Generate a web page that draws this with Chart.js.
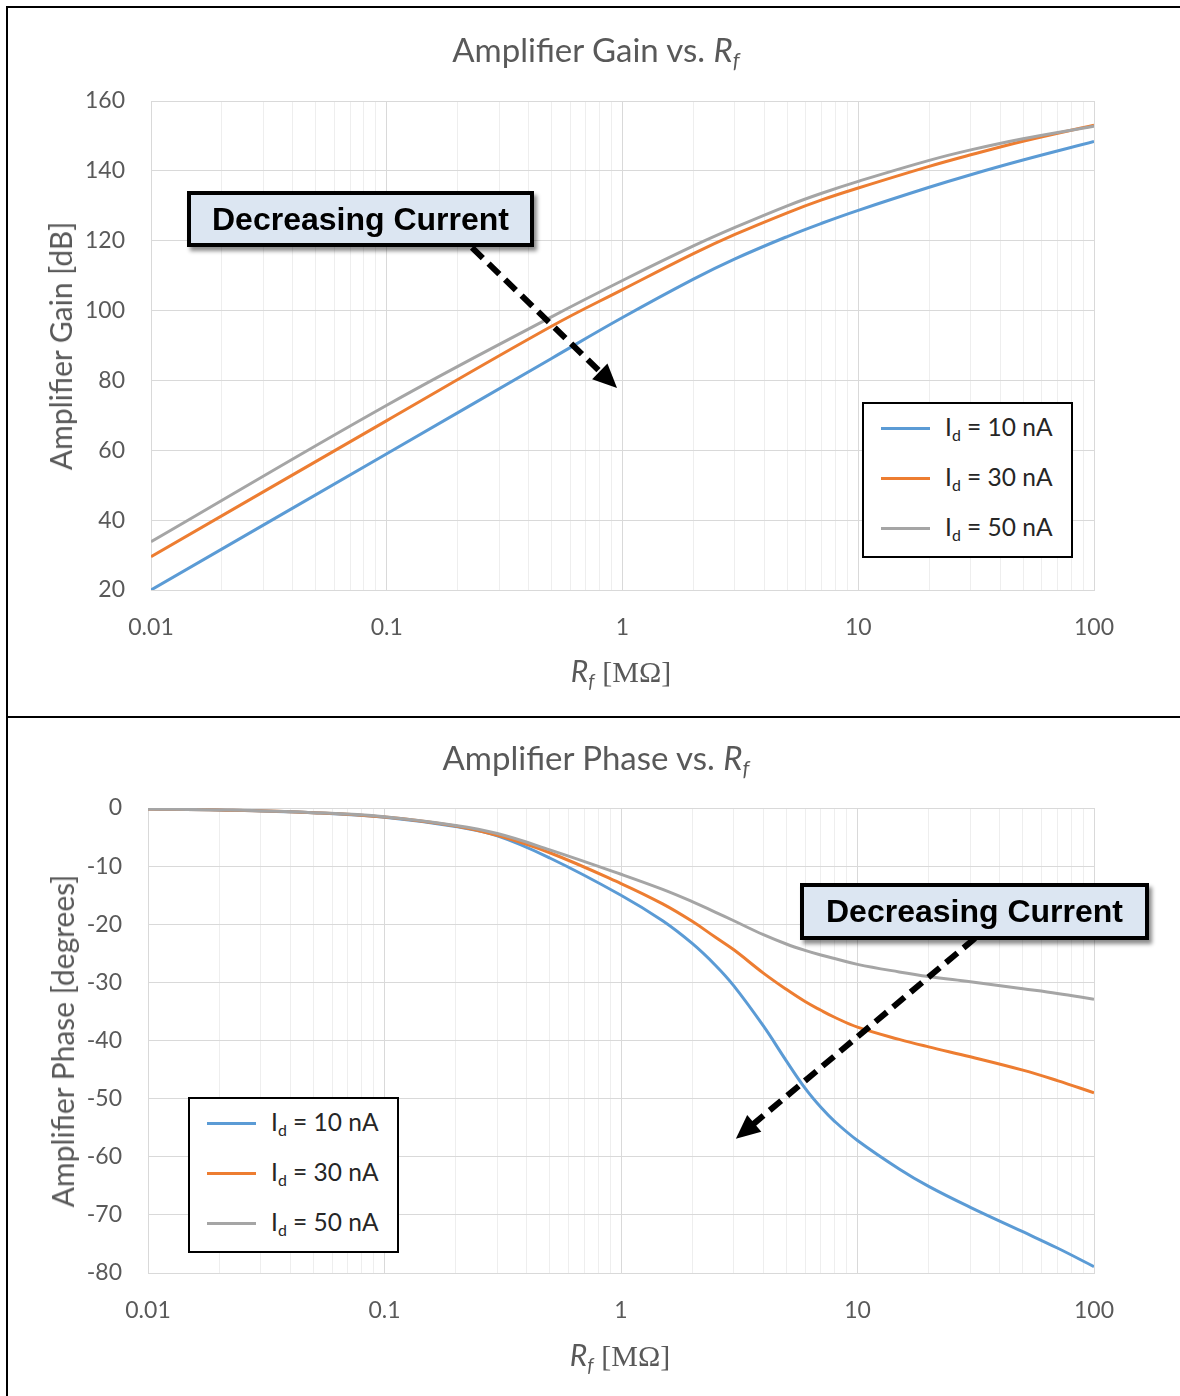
<!DOCTYPE html>
<html>
<head>
<meta charset="utf-8">
<script src="https://cdn.jsdelivr.net/npm/chart.js@4.4.1/dist/chart.umd.min.js"></script>
<style>
  html, body { margin: 0; padding: 0; background: #fff; }
  body { width: 1180px; height: 1396px; position: relative; overflow: hidden; font-family: Lato, "Open Sans", sans-serif; }
  #frame { position: absolute; left: 6px; top: 6px; width: 1300px; height: 1500px; border-left: 2px solid #000; border-top: 2px solid #000; }
  #divider { position: absolute; left: 6px; top: 716px; width: 1300px; height: 2px; background: #000; }
  .panel { position: absolute; left: 0; width: 1180px; }
  #gainPanel { top: 0; height: 717px; }
  #phasePanel { top: 717px; height: 679px; }
  canvas { display: block; }
  .txt { position: absolute; transform: translate(-50%, -50%); white-space: nowrap; line-height: 1; color: #595959; }
  .title { font-size: 33px; }
  .axis-title { font-size: 30px; }
  .ytitle { transform: translate(-50%, -50%) rotate(-90deg); }
  .serif { font-family: "Liberation Serif", "DejaVu Serif", serif; }
  sub { font-size: 65%; vertical-align: -0.3em; line-height: 0; }
  .legend { position: absolute; width: 211px; height: 156px; border: 2px solid #000; box-sizing: border-box; background: #fff; }
  .legend .swatch { position: absolute; left: 17px; width: 49px; height: 3px; margin-top: -1.5px; }
  .legend .lbl { position: absolute; left: 81px; transform: translateY(-50%); font-size: 24.5px; line-height: 1; color: #262626; white-space: nowrap; }
  .callout { position: absolute; box-sizing: border-box; border: 4.5px solid #000; background: #dce6f2;
             box-shadow: 3px 4px 4px rgba(0,0,0,0.45); font-family: "Liberation Sans", Arial, sans-serif;
             font-weight: bold; font-size: 32px; color: #000; display: flex; align-items: center; justify-content: center; }
</style>
</head>
<body>
<div id="frame"></div>
<div id="divider"></div>

<div class="panel" id="gainPanel"><canvas id="gainChart" width="1180" height="717"></canvas></div>
<div class="panel" id="phasePanel"><canvas id="phaseChart" width="1180" height="679"></canvas></div>

<div class="txt title" style="left:596px; top:49px;">Amplifier Gain vs. <i>R</i><sub><i>f</i></sub></div>
<div class="txt axis-title" style="left:621px; top:671px;"><i>R</i><sub><i>f</i></sub> <span class="serif">[MΩ]</span></div>
<div class="txt axis-title ytitle" style="left:60px; top:346px;">Amplifier Gain [dB]</div>

<div class="txt title" style="left:596px; top:757px;">Amplifier Phase vs. <i>R</i><sub><i>f</i></sub></div>
<div class="txt axis-title" style="left:620px; top:1355px;"><i>R</i><sub><i>f</i></sub> <span class="serif">[MΩ]</span></div>
<div class="txt axis-title ytitle" style="left:62px; top:1041px;">Amplifier Phase [degrees]</div>

<div class="legend" id="gainLegend" style="left:862px; top:402px;"></div>
<div class="legend" id="phaseLegend" style="left:188px; top:1097px;"></div>

<div class="callout" style="left:187px; top:191px; width:347px; height:56px;">Decreasing Current</div>
<div class="callout" style="left:800px; top:883px; width:349px; height:57px;">Decreasing Current</div>

<script>
// feedback resistance, MOhm
const RF_GAIN = [0.01, 0.1, 0.5, 1, 2, 3, 5, 7, 10, 20, 30, 50, 100];
const GAIN_10NA = [20, 59, 86.3, 98, 109, 114.8, 121.2, 125, 128.7, 135.3, 138.9, 143.1, 148.4];
const GAIN_30NA = [29.5, 68.5, 95.5, 106, 116.3, 121.8, 128, 131.7, 135.1, 141.3, 144.6, 148.5, 153.1];
const GAIN_50NA = [33.8, 72.9, 98.2, 108.6, 118.5, 123.8, 130, 133.6, 137, 143, 146, 149.2, 152.8];

const RF_PHASE = [0.01, 0.02, 0.05, 0.1, 0.2, 0.3, 0.5, 1, 1.5, 2, 2.5, 3, 4, 5, 6, 7, 8, 10, 15, 20, 30, 50, 70, 100];
const PHASE_10NA = [-0.17, -0.33, -0.82, -1.6, -3.2, -4.8, -8.6, -15.0, -19.4, -23.3, -27.0, -30.6, -37.5, -43.5, -48.2, -51.5, -53.9, -57.2, -62.1, -65.1, -68.7, -72.9, -75.7, -78.9];
const PHASE_30NA = [-0.17, -0.33, -0.8, -1.55, -3.1, -4.7, -7.7, -13.0, -16.5, -19.5, -22.2, -24.4, -28.4, -31.2, -33.3, -34.8, -36.0, -37.7, -39.8, -41.1, -42.8, -45.1, -46.9, -49.0];
const PHASE_50NA = [-0.17, -0.33, -0.8, -1.5, -3.0, -4.4, -7.2, -11.4, -14.0, -16.1, -17.9, -19.4, -21.8, -23.4, -24.5, -25.3, -25.9, -26.9, -28.2, -29.0, -29.9, -31.1, -31.9, -32.9];

const CURRENTS = ['10 nA', '30 nA', '50 nA'];
const COLORS = ['#5b9bd5', '#ed7d31', '#a5a5a5'];

const X_DECADES = [0.01, 0.1, 1, 10, 100];
const X_TICK_LABELS = ['0.01', '0.1', '1', '10', '100'];

// arrow annotations in data coordinates: [x0, y0, x1 (tip), y1 (tip)]
const GAIN_ARROW = [0.23, 118, 0.948, 77.8];
const PHASE_ARROW = [31.4, -22.4, 3.06, -56.9];

const TICK_COLOR = '#595959';
const MAJOR_GRID = '#d9d9d9';
const MINOR_GRID = '#eeeeee';

function isDecade(v) {
    return X_DECADES.some(d => Math.abs(v - d) / d < 1e-6);
}

function logGridValues() {
    const vals = [];
    for (let i = 0; i < X_DECADES.length - 1; i++) {
        for (let m = 1; m < 10; m++) vals.push(+(X_DECADES[i] * m).toPrecision(6));
    }
    vals.push(X_DECADES[X_DECADES.length - 1]);
    return vals;
}

function buildDatasets(xs, series) {
    return series.map((ys, i) => ({
        label: 'Id = ' + CURRENTS[i],
        data: xs.map((x, j) => ({ x: x, y: ys[j] })),
        borderColor: COLORS[i],
        backgroundColor: COLORS[i],
        borderWidth: 3,
        pointRadius: 0,
        fill: false,
        tension: 0.4,
        order: series.length - 1 - i
    }));
}

const arrowPlugin = {
    id: 'dashedArrow',
    afterDraw(chart, args, opts) {
        if (!opts.coords) return;
        const xs = chart.scales.x, ys = chart.scales.y;
        const [dx0, dy0, dx1, dy1] = opts.coords;
        const x0 = xs.getPixelForValue(dx0), y0 = ys.getPixelForValue(dy0);
        const x1 = xs.getPixelForValue(dx1), y1 = ys.getPixelForValue(dy1);
        const ang = Math.atan2(y1 - y0, x1 - x0);
        const headLen = 24, headHalf = 11;
        const bx = x1 - headLen * Math.cos(ang), by = y1 - headLen * Math.sin(ang);
        const ctx = chart.ctx;
        ctx.save();
        ctx.strokeStyle = '#000';
        ctx.fillStyle = '#000';
        ctx.lineWidth = 6;
        ctx.setLineDash([15, 8]);
        ctx.beginPath();
        ctx.moveTo(x0, y0);
        ctx.lineTo(bx + 2 * Math.cos(ang), by + 2 * Math.sin(ang));
        ctx.stroke();
        ctx.setLineDash([]);
        ctx.beginPath();
        ctx.moveTo(x1, y1);
        ctx.lineTo(bx + headHalf * Math.sin(ang), by - headHalf * Math.cos(ang));
        ctx.lineTo(bx - headHalf * Math.sin(ang), by + headHalf * Math.cos(ang));
        ctx.closePath();
        ctx.fill();
        ctx.restore();
    }
};

function makeChart(canvasId, xs, series, yCfg, layout, arrow) {
    const ctx = document.getElementById(canvasId).getContext('2d');
    return new Chart(ctx, {
        type: 'line',
        data: { datasets: buildDatasets(xs, series) },
        plugins: [arrowPlugin],
        options: {
            responsive: false,
            animation: false,
            devicePixelRatio: 1,
            layout: { padding: { left: 0, top: layout.top, right: layout.right, bottom: 0 } },
            plugins: {
                legend: { display: false },
                title: { display: false },
                tooltip: { enabled: false },
                dashedArrow: { coords: arrow }
            },
            scales: {
                x: {
                    type: 'logarithmic',
                    min: X_DECADES[0],
                    max: X_DECADES[X_DECADES.length - 1],
                    afterBuildTicks: axis => { axis.ticks = logGridValues().map(v => ({ value: v })); },
                    afterFit: axis => { axis.height = layout.xHeight; },
                    grid: {
                        drawTicks: false,
                        color: c => (c.tick && isDecade(c.tick.value)) ? MAJOR_GRID : MINOR_GRID,
                        lineWidth: 1
                    },
                    border: { color: MAJOR_GRID, width: 1 },
                    ticks: {
                        autoSkip: false,
                        maxRotation: 0,
                        padding: layout.xPad,
                        color: TICK_COLOR,
                        font: { family: 'Lato', size: 23 },
                        callback: v => {
                            const i = X_DECADES.findIndex(d => Math.abs(v - d) / d < 1e-6);
                            return i >= 0 ? X_TICK_LABELS[i] : '';
                        }
                    }
                },
                y: {
                    min: yCfg.min,
                    max: yCfg.max,
                    afterFit: axis => { axis.width = layout.yWidth; },
                    grid: { drawTicks: false, color: MAJOR_GRID, lineWidth: 1 },
                    border: { color: MAJOR_GRID, width: 1 },
                    ticks: {
                        stepSize: yCfg.step,
                        padding: 26,
                        color: TICK_COLOR,
                        font: { family: 'Lato', size: 23 }
                    }
                }
            }
        }
    });
}

function fillLegend(id, chart) {
    const box = document.getElementById(id);
    chart.data.datasets.forEach((ds, i) => {
        const y = 24 + i * 50;
        const sw = document.createElement('div');
        sw.className = 'swatch';
        sw.style.top = y + 'px';
        sw.style.background = ds.borderColor;
        box.appendChild(sw);
        const lbl = document.createElement('div');
        lbl.className = 'lbl';
        lbl.style.top = (y - 1) + 'px';
        lbl.innerHTML = 'I<sub>d</sub> = ' + CURRENTS[i];
        box.appendChild(lbl);
    });
}

const gainChart = makeChart('gainChart', RF_GAIN, [GAIN_10NA, GAIN_30NA, GAIN_50NA],
    { min: 20, max: 160, step: 20 },
    { top: 101, right: 86, yWidth: 151, xHeight: 127, xPad: 24 },
    GAIN_ARROW);

const phaseChart = makeChart('phaseChart', RF_PHASE, [PHASE_10NA, PHASE_30NA, PHASE_50NA],
    { min: -80, max: 0, step: 10 },
    { top: 91, right: 86, yWidth: 148, xHeight: 123, xPad: 24 },
    PHASE_ARROW);

fillLegend('gainLegend', gainChart);
fillLegend('phaseLegend', phaseChart);
</script>
</body>
</html>
